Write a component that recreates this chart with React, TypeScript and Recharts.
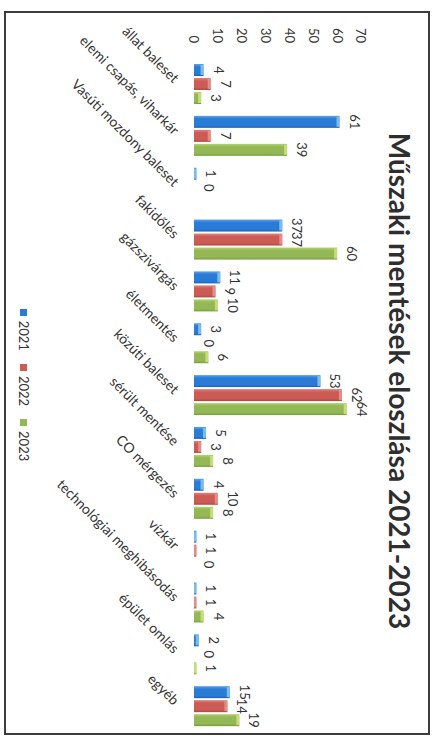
import React from 'react';
import { BarChart, Bar, XAxis, YAxis, LabelList } from 'recharts';

const categories = [
  'állat baleset',
  'elemi csapás, viharkár',
  'Vasúti mozdony baleset',
  'fakidőlés',
  'gázszivárgás',
  'életmentés',
  'közúti baleset',
  'sérült mentése',
  'CO mérgezés',
  'vízkár',
  'technológiai meghibásodás',
  'épület omlás',
  'egyéb',
];
const values2021: (number | null)[] = [4, 61, 1, 37, 11, 3, 53, 5, 4, 1, 1, 2, 15];
const values2022: (number | null)[] = [7, 7, 0, 37, 9, 0, 62, 3, 10, 1, 1, 0, 14];
const values2023: (number | null)[] = [3, 39, null, 60, 10, 6, 64, 8, 8, 0, 4, 1, 19];
const seriesNames = ['2021', '2022', '2023'];
const valueTicks = [0, 10, 20, 30, 40, 50, 60, 70];
const titleText = 'Műszaki mentések eloszlása 2021-2023';

const data = categories.map((name, i) => ({
  name,
  y2021: values2021[i],
  y2022: values2022[i],
  y2023: values2023[i],
}));

const seriesKeys = ['y2021', 'y2022', 'y2023'];
const seriesStyle = [
  { base: '#2a7bd6', light: '#5ea3ea', dark: '#1b62b8', cap: '#8fcdf0' },
  { base: '#cc5b55', light: '#e3837c', dark: '#ad4640', cap: '#e89a92' },
  { base: '#93b855', light: '#b5d274', dark: '#779b3f', cap: '#cfe87a' },
];

const FONT = 'Lato, "Liberation Sans", sans-serif';
const TEXT = '#333333';

const makeShape = (i: number) => (props: any) => {
  const { x, y, width, height } = props;
  if (height == null || !(height > 0) || !(width > 0)) return <g />;
  const capH = Math.min(3, height);
  return (
    <g>
      <rect x={x} y={y} width={width} height={height} fill={`url(#grad${i})`} />
      <rect x={x + 1} y={y} width={Math.max(0, width - 2)} height={capH} fill={seriesStyle[i].cap} opacity={0.8} />
    </g>
  );
};

const CategoryTick = (props: any) => {
  const { x, y, payload } = props;
  const ay = y + 13;
  return (
    <text
      x={x}
      y={ay}
      transform={`rotate(-45 ${x} ${ay})`}
      textAnchor="end"
      fontSize={14}
      fontFamily={FONT}
      fill={TEXT}
    >
      {payload.value}
    </text>
  );
};

export default function App() {
  return (
    <div
      style={{
        position: 'fixed',
        left: 0,
        top: 0,
        width: 435,
        height: 743,
        background: '#ffffff',
        overflow: 'hidden',
      }}
    >
      <div
        style={{
          position: 'absolute',
          left: 0,
          top: 0,
          width: 724,
          height: 426,
          boxSizing: 'border-box',
          border: '2px solid #3c3c3c',
          transformOrigin: '0 0',
          transform: 'translate(430px, 11px) rotate(90deg)',
          background: '#ffffff',
        }}
      >
        <div style={{ position: 'relative', width: 720, height: 422 }}>
          <div
            style={{
              position: 'absolute',
              left: 0,
              top: 13,
              width: 720,
              paddingLeft: 16,
              boxSizing: 'border-box',
              textAlign: 'center',
              fontFamily: FONT,
              fontWeight: 700,
              fontSize: 28,
              lineHeight: '30px',
              color: '#2e2e2e',
              whiteSpace: 'nowrap',
            }}
          >
            {titleText}
          </div>
          <BarChart
            width={720}
            height={422}
            data={data}
            margin={{ top: 67, right: 1, bottom: 148, left: 15 }}
            barSize={12}
            barGap={2}
          >
            <defs>
              {seriesStyle.map((s, i) => (
                <linearGradient key={i} id={`grad${i}`} x1="0" y1="0" x2="1" y2="0">
                  <stop offset="0%" stopColor={s.light} />
                  <stop offset="25%" stopColor={s.base} />
                  <stop offset="80%" stopColor={s.base} />
                  <stop offset="100%" stopColor={s.dark} />
                </linearGradient>
              ))}
            </defs>
            <XAxis
              dataKey="name"
              interval={0}
              tickLine={false}
              axisLine={false}
              height={40}
              tick={<CategoryTick />}
            />
            <YAxis
              domain={[0, 70]}
              ticks={valueTicks}
              tickLine={false}
              axisLine={false}
              width={30}
              tickMargin={9}
              tick={{ fontSize: 13, fill: TEXT, fontFamily: FONT }}
            />
            {seriesKeys.map((k, i) => (
              <Bar
                key={k}
                dataKey={k}
                name={seriesNames[i]}
                fill={seriesStyle[i].base}
                isAnimationActive={false}
                shape={makeShape(i)}
              >
                <LabelList
                  dataKey={k}
                  position="top"
                  offset={10}
                  fontSize={13}
                  fontFamily={FONT}
                  fill={TEXT}
                  formatter={(v: any) => (v == null ? '' : v)}
                />
              </Bar>
            ))}
          </BarChart>
          <div
            style={{
              position: 'absolute',
              left: 0,
              top: 396,
              width: 720,
              paddingLeft: 24,
              boxSizing: 'border-box',
              display: 'flex',
              justifyContent: 'center',
              gap: 13,
              fontFamily: FONT,
              fontSize: 13,
              lineHeight: '16px',
              color: TEXT,
            }}
          >
            {seriesNames.map((n, i) => (
              <div key={n} style={{ display: 'flex', alignItems: 'center', gap: 5 }}>
                <span
                  style={{
                    display: 'inline-block',
                    width: 7,
                    height: 7,
                    background: seriesStyle[i].base,
                  }}
                />
                <span>{n}</span>
              </div>
            ))}
          </div>
        </div>
      </div>
    </div>
  );
}
